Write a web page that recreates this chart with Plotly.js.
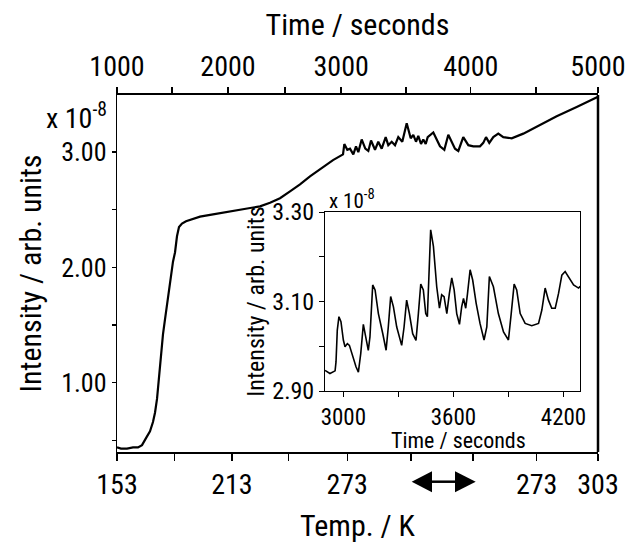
<!DOCTYPE html>
<html><head><meta charset="utf-8">
<script src="https://cdn.plot.ly/plotly-3.0.1.min.js"></script>
<style>html,body{margin:0;padding:0;background:#fff}#chart{width:628px;height:543px}</style>
</head><body><div id="chart"></div>
<script>
// ---- Main curve: position along the run (0-100 % of the plotted span) and intensity (x 1e-8)
var mainPos = [0.0,0.83,2.08,3.33,4.37,5.20,6.03,6.86,7.48,7.90,8.32,8.73,9.15,9.56,9.98,10.40,10.81,11.23,11.64,12.06,12.47,12.89,13.51,14.35,15.59,17.26,19.96,22.87,26.20,29.73,31.81,33.89,35.97,38.05,40.12,42.20,44.91,46.99,
  47.26,47.88,48.44,49.13,49.69,50.17,50.87,51.62,52.25,52.81,53.64,54.32,55.03,55.86,56.40,57.11,57.80,58.48,59.31,60.23,61.06,61.60,62.16,62.64,63.20,63.68,64.18,64.59,65.76,67.15,68.05,68.88,70.27,70.96,71.99,73.04,74.07,75.47,76.15,76.72,77.40,78.23,79.27,80.31,82.06,84.47,87.26,91.41,95.57,99.73,100];
var mainVal = [0.44,0.43,0.43,0.44,0.44,0.46,0.52,0.58,0.66,0.74,0.86,1.05,1.25,1.42,1.55,1.68,1.80,1.93,2.05,2.13,2.27,2.35,2.38,2.40,2.42,2.44,2.46,2.48,2.50,2.53,2.56,2.60,2.66,2.72,2.79,2.85,2.93,2.98,
  3.07,3.02,3.03,2.98,3.05,3.00,3.11,3.03,3.01,3.10,3.02,3.09,3.03,3.13,3.06,3.09,3.06,3.13,3.09,3.25,3.12,3.15,3.09,3.14,3.07,3.11,3.07,3.13,3.17,3.05,3.02,3.15,3.03,3.01,3.13,3.06,3.05,3.05,3.08,3.13,3.08,3.13,3.16,3.13,3.12,3.16,3.22,3.31,3.39,3.47,3.48];

// ---- Inset: time (s) and intensity (x 1e-8)
var insetTime = [2900,2927,2955,2960,2967,2976,2987,3000,3009,3022,3033,3051,3069,3082,3095,3109,3122,3136,3145,3160,3173,3191,3215,3233,3245,3258,3273,3291,3318,3331,3345,3360,3378,3396,3409,3422,3436,3449,3458,3467,3476,3491,3509,3524,3536,3549,3564,3578,3591,3604,3618,3633,3645,3655,3667,3676,3691,3705,3724,3745,3767,3782,3796,3818,3845,3873,3900,3915,3931,3945,3964,3991,4027,4064,4082,4100,4118,4136,4155,4173,4191,4209,4227,4255,4282,4291];
var insetVal = [2.946,2.939,2.945,2.965,3.036,3.066,3.055,3.014,2.999,3.006,3.002,2.976,2.954,2.942,2.984,3.049,3.021,2.991,3.021,3.137,3.126,3.073,3.028,2.991,3.043,3.111,3.088,3.043,3.002,3.043,3.103,3.073,3.028,3.013,3.073,3.139,3.126,3.073,3.066,3.148,3.260,3.223,3.133,3.085,3.115,3.111,3.073,3.118,3.153,3.126,3.073,3.049,3.088,3.107,3.085,3.115,3.171,3.148,3.096,3.051,3.014,3.043,3.156,3.133,3.073,3.032,3.014,3.073,3.139,3.126,3.073,3.051,3.046,3.051,3.081,3.130,3.103,3.085,3.085,3.118,3.159,3.167,3.156,3.137,3.130,3.134];

// ---- Tick positions / labels
var topTickPos = [0,23.08,46.6,73.55,100];
var topTickText = ['1000','2000','3000','4000','5000'];
var topMinorPos = [11.43,34.9,60.1,87.1];
var botTickPos = [0,23.9,47.85,87.25,100];
var botTickText = ['153','213','273','273','303'];
var botMinorPos = [11.9,35.7,61.1,74.0];
var yTickVals = [1,2,3];
var yTickText = ['1.00','2.00','3.00'];
var yMinorVals = [0.5,1.5,2.5,3.5];
var inXTickVals = [3000,3600,4200];
var inXTickText = ['3000','3600','4200'];
var inXMinorVals = [3300,3900];
var inYTickVals = [2.9,3.1,3.3];
var inYTickText = ['2.90','3.10','3.30'];
var inYMinorVals = [3.0,3.2];

var FONT = "'Roboto Condensed', 'Liberation Sans Narrow', 'Arial Narrow', sans-serif";

// plot-area pixel frame, used only to place decorations
var L = 117, R = 598, T = 95, B = 452;
function ux(px){ return (px - L) / (R - L) * 100; }
function py(p){ return (B - p) / (B - T); }
function pxp(p){ return (p - L) / (R - L); }
var ay = 481.7, ah = 10.5;
var arrowShapes = [
  {type:'line', xref:'x', yref:'paper', x0:ux(428), x1:ux(460), y0:py(ay), y1:py(ay), line:{color:'#000', width:2.5}},
  {type:'path', xref:'x', yref:'paper', path:'M '+ux(411.7)+' '+py(ay)+' L '+ux(432)+' '+py(ay-ah)+' L '+ux(432)+' '+py(ay+ah)+' Z', fillcolor:'#000', line:{width:0}},
  {type:'path', xref:'x', yref:'paper', path:'M '+ux(475.7)+' '+py(ay)+' L '+ux(455)+' '+py(ay-ah)+' L '+ux(455)+' '+py(ay+ah)+' Z', fillcolor:'#000', line:{width:0}},
  {type:'line', xref:'paper', yref:'paper', x0:1, x1:1, y0:0, y1:1, line:{color:'#000', width:2.5}}
];

var traces = [
  {x: mainPos, y: mainVal, xaxis:'x', yaxis:'y', mode:'lines', line:{color:'#000', width:2.2}, hoverinfo:'skip', showlegend:false},
  // same series attached to the top (time) axis so that axis is drawn; invisible
  {x: mainPos, y: mainVal, xaxis:'x3', yaxis:'y', mode:'lines', line:{color:'rgba(0,0,0,0)', width:0}, hoverinfo:'skip', showlegend:false},
  {x: insetTime, y: insetVal, xaxis:'x2', yaxis:'y2', mode:'lines', line:{color:'#000', width:1.6}, hoverinfo:'skip', showlegend:false}
];

function ax(o){
  var base = {ticks:'outside', tickwidth:1.3, tickcolor:'#000', showline:true, linecolor:'#000',
    showgrid:false, zeroline:false, automargin:false, tickmode:'array'};
  for (var k in o) base[k] = o[k];
  return base;
}

var layout = {
  width:628, height:543,
  margin:{l:117, r:30, t:95, b:91},
  paper_bgcolor:'#fff', plot_bgcolor:'rgba(0,0,0,0)',
  font:{family:FONT, color:'#000'},
  showlegend:false,
  xaxis: ax({domain:[0,1], range:[0,100], anchor:'y', tickvals:botTickPos, ticktext:botTickText,
    ticklen:7, linewidth:1.6, tickfont:{size:28},
    minor:{tickmode:'array', tickvals:botMinorPos, ticks:'outside', ticklen:7, tickwidth:1.3, tickcolor:'#000', showgrid:false},
    title:{text:'Temp. / K', font:{size:30}, standoff:27}}),
  xaxis3: ax({overlaying:'x', side:'top', anchor:'y', range:[0,100], tickvals:topTickPos, ticktext:topTickText,
    ticklen:6, linewidth:1.6, tickfont:{size:28},
    minor:{tickmode:'array', tickvals:topMinorPos, ticks:'outside', ticklen:6, tickwidth:1.3, tickcolor:'#000', showgrid:false},
    title:{text:'Time / seconds', font:{size:30}, standoff:6}}),
  yaxis: ax({domain:[0,1], range:[0.40,3.495], anchor:'x', tickvals:yTickVals, ticktext:yTickText,
    ticklen:4, linewidth:1.3, tickfont:{size:26},
    minor:{tickmode:'array', tickvals:yMinorVals, ticks:'outside', ticklen:4, tickwidth:1.3, tickcolor:'#000', showgrid:false},
    title:{text:'Intensity / arb. units', font:{size:30}, standoff:10}}),
  xaxis2: ax({domain:[pxp(325),pxp(580)], range:[2900,4290], anchor:'y2', tickvals:inXTickVals, ticktext:inXTickText,
    ticklen:5, tickwidth:1, mirror:true, linewidth:1, tickfont:{size:23},
    minor:{tickmode:'array', tickvals:inXMinorVals, ticks:'outside', ticklen:5, tickwidth:1, tickcolor:'#000', showgrid:false}}),
  yaxis2: ax({domain:[py(391),py(212)], range:[2.90,3.30], anchor:'x2', tickvals:inYTickVals, ticktext:inYTickText,
    ticklen:5, tickwidth:1, mirror:true, linewidth:1, tickfont:{size:24},
    minor:{tickmode:'array', tickvals:inYMinorVals, ticks:'outside', ticklen:5, tickwidth:1, tickcolor:'#000', showgrid:false},
    title:{text:'Intensity / arb. units', font:{size:24}, standoff:0}}),
  shapes: arrowShapes,
  annotations:[
    {xref:'paper', yref:'paper', x:pxp(109), y:py(116), xanchor:'right', yanchor:'middle', showarrow:false,
     text:'x 10<sup>-8</sup>', font:{size:28}},
    {xref:'paper', yref:'paper', x:pxp(327), y:py(199), xanchor:'left', yanchor:'middle', showarrow:false,
     text:'x 10<sup>-8</sup>', font:{size:21}},
    // inset x-axis title
    {xref:'paper', yref:'paper', x:pxp(458), y:py(440), xanchor:'center', yanchor:'middle', showarrow:false, borderpad:0,
     text:'Time / seconds', font:{size:22}}
  ]
};

Plotly.newPlot('chart', traces, layout, {staticPlot:true, displayModeBar:false});
</script></body></html>
